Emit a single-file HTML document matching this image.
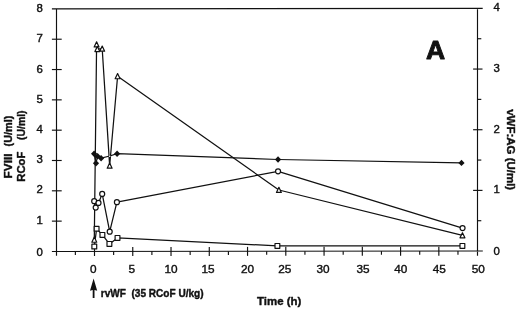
<!DOCTYPE html>
<html><head><meta charset="utf-8"><title>Figure A</title>
<style>
html,body{margin:0;padding:0;background:#fff;}
svg{display:block;}
text{font-family:"Liberation Sans",Arial,Helvetica,sans-serif;fill:#111;}
.b{font-weight:bold;}
.n{stroke:#111;stroke-width:0.4;}
</style></head><body>
<svg width="520" height="311" viewBox="0 0 520 311">
<rect x="0" y="0" width="520" height="311" fill="#fff"/>

<g stroke="#111" stroke-width="1.15" fill="none">
<path d="M56.5 8.9 V255.85 M51.9 8.92 L482.7 8.38 M477.5 8.4 V255.75 M51.9 251.47 L482.8 251.03"/>
<path d="M51.9 221.13 H61.7"/>
<path d="M51.9 190.81 H61.7"/>
<path d="M51.9 160.49 H61.7"/>
<path d="M51.9 130.18 H61.7"/>
<path d="M51.9 99.86 H61.7"/>
<path d="M51.9 69.54 H61.7"/>
<path d="M51.9 39.22 H61.7"/>
<path d="M477.5 220.72 H481.3"/>
<path d="M473.1 190.39 H482.5"/>
<path d="M477.5 160.06 H481.3"/>
<path d="M473.1 129.73 H482.5"/>
<path d="M477.5 99.39 H481.3"/>
<path d="M473.1 69.06 H482.5"/>
<path d="M477.5 38.73 H481.3"/>
<path d="M75.37 251.43 V255.03"/>
<path d="M94.50 247.01 V256.01"/>
<path d="M113.63 251.40 V255.00"/>
<path d="M132.76 246.98 V255.98"/>
<path d="M151.89 251.36 V254.96"/>
<path d="M171.02 246.94 V255.94"/>
<path d="M190.15 251.32 V254.92"/>
<path d="M209.28 246.90 V255.90"/>
<path d="M228.41 251.29 V254.89"/>
<path d="M247.54 246.87 V255.87"/>
<path d="M266.67 251.25 V254.85"/>
<path d="M285.80 246.83 V255.83"/>
<path d="M304.93 251.21 V254.81"/>
<path d="M324.06 246.80 V255.80"/>
<path d="M343.19 251.18 V254.78"/>
<path d="M362.32 246.76 V255.76"/>
<path d="M381.45 251.14 V254.74"/>
<path d="M400.58 246.72 V255.72"/>
<path d="M419.71 251.10 V254.70"/>
<path d="M438.84 246.69 V255.69"/>
<path d="M457.97 251.07 V254.67"/>
</g>
<g font-size="11.4" text-anchor="middle" class="n">
<text x="39.7" y="255.73">0</text>
<text x="39.7" y="224.23">1</text>
<text x="39.7" y="193.48">2</text>
<text x="39.7" y="162.68">3</text>
<text x="39.7" y="133.48">4</text>
<text x="39.7" y="103.38">5</text>
<text x="39.7" y="72.88">6</text>
<text x="39.7" y="41.68">7</text>
<text x="39.7" y="11.78">8</text>
<text x="496.7" y="255.38">0</text>
<text x="496.7" y="192.68">1</text>
<text x="496.7" y="133.38">2</text>
<text x="496.7" y="72.13">3</text>
<text x="496.7" y="10.83">4</text>
</g>
<g font-size="11.8" text-anchor="middle" class="n">
<text x="93.33" y="272.72">0</text>
<text x="131.80" y="272.72">5</text>
<text x="171.00" y="272.72">10</text>
<text x="208.00" y="272.72">15</text>
<text x="247.50" y="272.72">20</text>
<text x="284.80" y="272.72">25</text>
<text x="323.05" y="272.72">30</text>
<text x="363.10" y="272.72">35</text>
<text x="400.85" y="272.72">40</text>
<text x="439.20" y="272.72">45</text>
<text x="478.30" y="272.72">50</text>
</g>
<g class="b" stroke="#111" stroke-width="0.4" stroke-linejoin="round">
<text font-size="11.6" transform="translate(11.6 178.4) rotate(-90)" textLength="24.9" lengthAdjust="spacingAndGlyphs">FVIII</text>
<text font-size="11.6" transform="translate(11.6 146.4) rotate(-90)" textLength="30.7" lengthAdjust="spacingAndGlyphs">(U/ml)</text>
<text font-size="11.6" transform="translate(25.3 181.7) rotate(-90)" textLength="30" lengthAdjust="spacingAndGlyphs">RCoF</text>
<text font-size="11.6" transform="translate(25.3 140.0) rotate(-90)" textLength="29.6" lengthAdjust="spacingAndGlyphs">(U/ml)</text>
<text font-size="11.5" transform="translate(506.7 109.2) rotate(90)" textLength="81" lengthAdjust="spacingAndGlyphs">vWF:AG (U/ml)</text>
<text font-size="11.5" x="257" y="305.4" textLength="44.3" lengthAdjust="spacingAndGlyphs">Time (h)</text>
<text font-size="10.2" x="100.8" y="297" textLength="102.8" lengthAdjust="spacingAndGlyphs" xml:space="preserve" style="white-space:pre">rvWF  (35 RCoF U/kg)</text>
<text font-size="26.5" x="435.55" y="58.8" text-anchor="middle" stroke-width="0.9">A</text>
</g>
<path d="M93.6 278.5 L97.2 290.8 L94.5 290 L94.5 298 L92.7 298 L92.7 290 L90 290.8 Z" fill="#111"/>
<g stroke="#111" stroke-width="1.25" fill="none" stroke-linejoin="round">
<polyline points="94.30,239.80 96.60,44.50 97.35,49.10 102.20,48.70 109.65,165.70 117.60,76.30 278.90,190.00 462.45,235.40"/>
<polyline points="94.10,153.70 96.00,163.20 97.60,156.20 101.10,158.20 109.70,156.00 117.10,153.70 278.05,159.50 461.50,162.90"/>
<polyline points="94.20,201.20 95.70,207.60 98.50,202.90 102.20,193.90 109.70,231.70 116.90,202.20 278.05,171.30 462.55,228.10"/>
<polyline points="94.30,246.50 96.60,228.80 102.40,234.90 109.40,243.90 117.50,237.90 277.40,245.90 462.40,245.90"/>
</g>
<g stroke="#111" stroke-width="1.2" fill="#fff" stroke-linejoin="round">
<path d="M94.30 237.10 L96.75 242.25 L91.85 242.25 Z"/>
<path d="M96.60 41.80 L99.05 46.95 L94.15 46.95 Z"/>
<path d="M97.35 46.40 L99.80 51.55 L94.90 51.55 Z"/>
<path d="M102.20 46.00 L104.65 51.15 L99.75 51.15 Z"/>
<path d="M109.65 163.00 L112.10 168.15 L107.20 168.15 Z"/>
<path d="M117.60 73.60 L120.05 78.75 L115.15 78.75 Z"/>
<path d="M278.90 187.30 L281.35 192.45 L276.45 192.45 Z"/>
<path d="M462.45 232.70 L464.90 237.85 L460.00 237.85 Z"/>
<circle cx="94.20" cy="201.20" r="2.5"/>
<circle cx="95.70" cy="207.60" r="2.5"/>
<circle cx="98.50" cy="202.90" r="2.5"/>
<circle cx="102.20" cy="193.90" r="2.5"/>
<circle cx="109.70" cy="231.70" r="2.5"/>
<circle cx="116.90" cy="202.20" r="2.5"/>
<circle cx="278.05" cy="171.30" r="2.5"/>
<circle cx="462.55" cy="228.10" r="2.5"/>
<rect x="91.90" y="244.10" width="4.8" height="4.8"/>
<rect x="94.20" y="226.40" width="4.8" height="4.8"/>
<rect x="100.00" y="232.50" width="4.8" height="4.8"/>
<rect x="107.00" y="241.50" width="4.8" height="4.8"/>
<rect x="115.10" y="235.50" width="4.8" height="4.8"/>
<rect x="275.00" y="243.50" width="4.8" height="4.8"/>
<rect x="460.00" y="243.50" width="4.8" height="4.8"/>
</g>
<g fill="#111" stroke="none">
<path d="M94.10 150.50 L97.20 153.70 L94.10 156.90 L91.00 153.70 Z"/>
<path d="M96.00 160.00 L99.10 163.20 L96.00 166.40 L92.90 163.20 Z"/>
<path d="M97.60 153.00 L100.70 156.20 L97.60 159.40 L94.50 156.20 Z"/>
<path d="M101.10 155.00 L104.20 158.20 L101.10 161.40 L98.00 158.20 Z"/>
<path d="M117.10 150.50 L120.20 153.70 L117.10 156.90 L114.00 153.70 Z"/>
<path d="M278.05 156.30 L281.15 159.50 L278.05 162.70 L274.95 159.50 Z"/>
<path d="M461.50 159.70 L464.60 162.90 L461.50 166.10 L458.40 162.90 Z"/>
</g>
<circle cx="109.7" cy="156.2" r="0.8" fill="#fff"/>
</svg></body></html>
